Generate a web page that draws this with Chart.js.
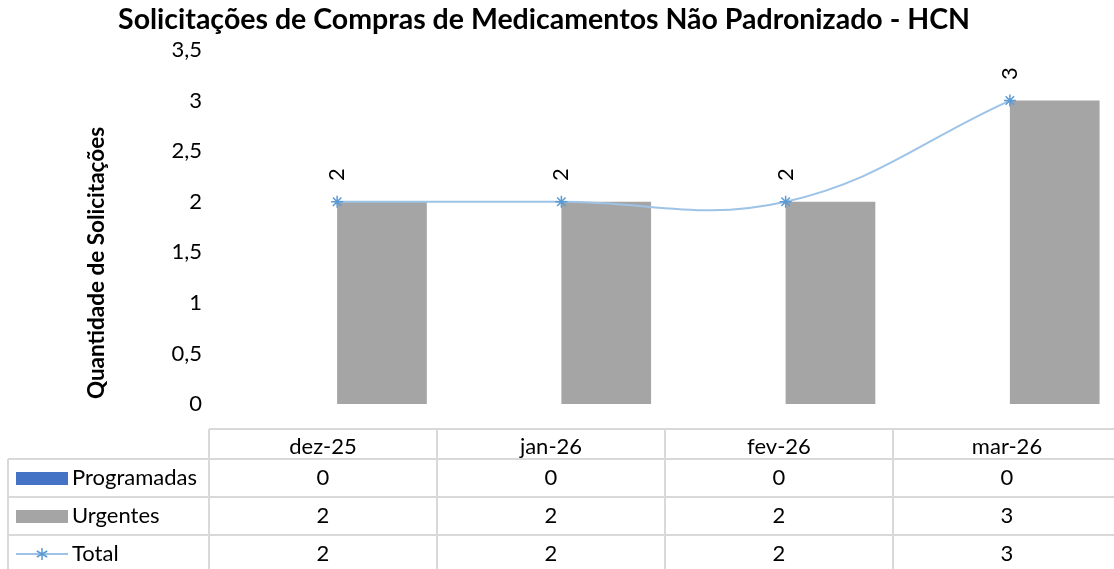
<!DOCTYPE html>
<html lang="pt-BR">
<head>
<meta charset="utf-8">
<title>Solicitações de Compras de Medicamentos Não Padronizado - HCN</title>
<script src="https://cdn.jsdelivr.net/npm/chart.js@4.4.1/dist/chart.umd.min.js"></script>
<style>
  html, body { margin: 0; padding: 0; background: #fff; overflow: hidden; }
  #wrap { width: 1130px; height: 569px; }
</style>
</head>
<body>
<div id="wrap"><canvas id="chart" width="1130" height="569"></canvas></div>
<script>
// Monthly requests (non-standard drug purchases)
const months = ['dez-25', 'jan-26', 'fev-26', 'mar-26'];
const programadas = [0, 0, 0, 0];
const urgentes = [2, 2, 2, 3];
const total = [2, 2, 2, 3];
const yTicks = [0, 0.5, 1, 1.5, 2, 2.5, 3, 3.5];

const TITLE = 'Solicitações de Compras de Medicamentos Não Padronizado - HCN';
const Y_TITLE = 'Quantidade de Solicitações';

const FONT = 'Lato, "Open Sans", sans-serif';
const TXT = 22;
const BLUE = '#4472C4';
const GREY = '#A5A5A5';
const LINE = '#9DC3E6';
const MARK = '#5B9BD5';

const fmt = v => String(v).replace('.', ',');

// chart title and rotated axis title
const titles = {
  id: 'titles',
  afterDraw(chart) {
    const ctx = chart.ctx;
    ctx.save();
    ctx.fillStyle = '#000';
    ctx.textBaseline = 'middle';
    ctx.textAlign = 'center';
    ctx.font = 'bold 28.5px ' + FONT;
    ctx.fillText(TITLE, 544, 20);
    ctx.font = 'bold 22.5px ' + FONT;
    ctx.translate(97, 263);
    ctx.rotate(-Math.PI / 2);
    ctx.fillText(Y_TITLE, 0, 0);
    ctx.restore();
  }
};

// rotated value labels above the total line
const valueLabels = {
  id: 'valueLabels',
  afterDatasetsDraw(chart) {
    const ctx = chart.ctx;
    const meta = chart.getDatasetMeta(2);
    ctx.save();
    ctx.font = TXT + 'px ' + FONT;
    ctx.fillStyle = '#000';
    ctx.textAlign = 'center';
    ctx.textBaseline = 'middle';
    meta.data.forEach((pt, i) => {
      ctx.save();
      ctx.translate(pt.x, pt.y - 27);
      ctx.rotate(-Math.PI / 2);
      ctx.fillText(fmt(total[i]), 0, 0);
      ctx.restore();
    });
    ctx.restore();
  }
};

// data table under the plot
const dataTable = {
  id: 'dataTable',
  afterDraw(chart) {
    const ctx = chart.ctx;
    const labelLeft = 8;
    const colLeft = 209;
    const colW = 228;
    const rows = [429, 459, 497, 535, 573];
    const right = colLeft + colW * months.length;
    ctx.save();
    ctx.strokeStyle = '#D9D9D9';
    ctx.lineWidth = 2;
    ctx.beginPath();
    // horizontal rules
    ctx.moveTo(colLeft, rows[0]); ctx.lineTo(right, rows[0]);
    for (let r = 1; r < rows.length; r++) {
      ctx.moveTo(labelLeft, rows[r]); ctx.lineTo(right, rows[r]);
    }
    // vertical rules
    ctx.moveTo(labelLeft, rows[1]); ctx.lineTo(labelLeft, rows[4]);
    for (let c = 0; c <= months.length; c++) {
      const x = colLeft + c * colW;
      ctx.moveTo(x, rows[0]); ctx.lineTo(x, rows[4]);
    }
    ctx.stroke();

    ctx.font = TXT + 'px ' + FONT;
    ctx.fillStyle = '#000';
    ctx.textBaseline = 'middle';
    ctx.textAlign = 'center';
    const series = [programadas, urgentes, total];
    months.forEach((m, c) => {
      const cx = colLeft + c * colW + colW / 2;
      ctx.fillText(m, cx, (rows[0] + rows[1]) / 2 + 3);
      series.forEach((s, r) => {
        ctx.fillText(fmt(s[c]), cx, (rows[r + 1] + rows[r + 2]) / 2);
      });
    });

    // legend keys and row names
    const names = ['Programadas', 'Urgentes', 'Total'];
    ctx.textAlign = 'left';
    names.forEach((n, r) => {
      const cy = (rows[r + 1] + rows[r + 2]) / 2;
      if (r < 2) {
        ctx.fillStyle = r === 0 ? BLUE : GREY;
        ctx.fillRect(16, cy - 6, 52, 13);
      } else {
        ctx.strokeStyle = LINE;
        ctx.lineWidth = 2;
        ctx.beginPath();
        ctx.moveTo(16, cy); ctx.lineTo(68, cy);
        ctx.stroke();
        ctx.strokeStyle = MARK;
        ctx.lineWidth = 1.5;
        ctx.beginPath();
        for (let k = 0; k < 3; k++) {
          const a = Math.PI / 2 + k * Math.PI / 3;
          ctx.moveTo(42 + 6 * Math.cos(a), cy + 6 * Math.sin(a));
          ctx.lineTo(42 - 6 * Math.cos(a), cy - 6 * Math.sin(a));
        }
        ctx.stroke();
      }
      ctx.fillStyle = '#000';
      ctx.fillText(n, 72, cy);
    });
    ctx.restore();
  }
};

new Chart(document.getElementById('chart'), {
  data: {
    labels: months,
    datasets: [
      {
        type: 'bar',
        label: 'Programadas',
        data: programadas,
        backgroundColor: BLUE,
        borderWidth: 0,
        order: 1,
      },
      {
        type: 'bar',
        label: 'Urgentes',
        data: urgentes,
        backgroundColor: GREY,
        borderWidth: 0,
        order: 1,
      },
      {
        type: 'line',
        label: 'Total',
        data: total,
        borderColor: LINE,
        borderWidth: 2,
        tension: 0.4,
        pointStyle: 'star',
        pointRadius: 6,
        pointBorderColor: MARK,
        pointBorderWidth: 1.5,
        pointBackgroundColor: MARK,
        order: 0,
      },
    ],
  },
  options: {
    responsive: false,
    animation: false,
    categoryPercentage: 0.8,
    barPercentage: 1.0,
    layout: { padding: { left: 0, right: 8, top: 50, bottom: 165 } },
    plugins: {
      legend: { display: false },
      tooltip: { enabled: false },
      title: { display: false },
    },
    scales: {
      x: {
        display: false,
        grid: { display: false },
      },
      y: {
        min: 0,
        max: 3.5,
        afterBuildTicks: axis => { axis.ticks = yTicks.map(v => ({ value: v })); },
        afterFit: axis => { axis.width = 225; },
        grid: { display: false, drawTicks: false },
        border: { display: false },
        ticks: {
          padding: 23,
          color: '#000',
          font: { family: FONT, size: TXT },
          callback: v => fmt(v),
        },
      },
    },
  },
  plugins: [valueLabels, dataTable, titles],
});
</script>
</body>
</html>
